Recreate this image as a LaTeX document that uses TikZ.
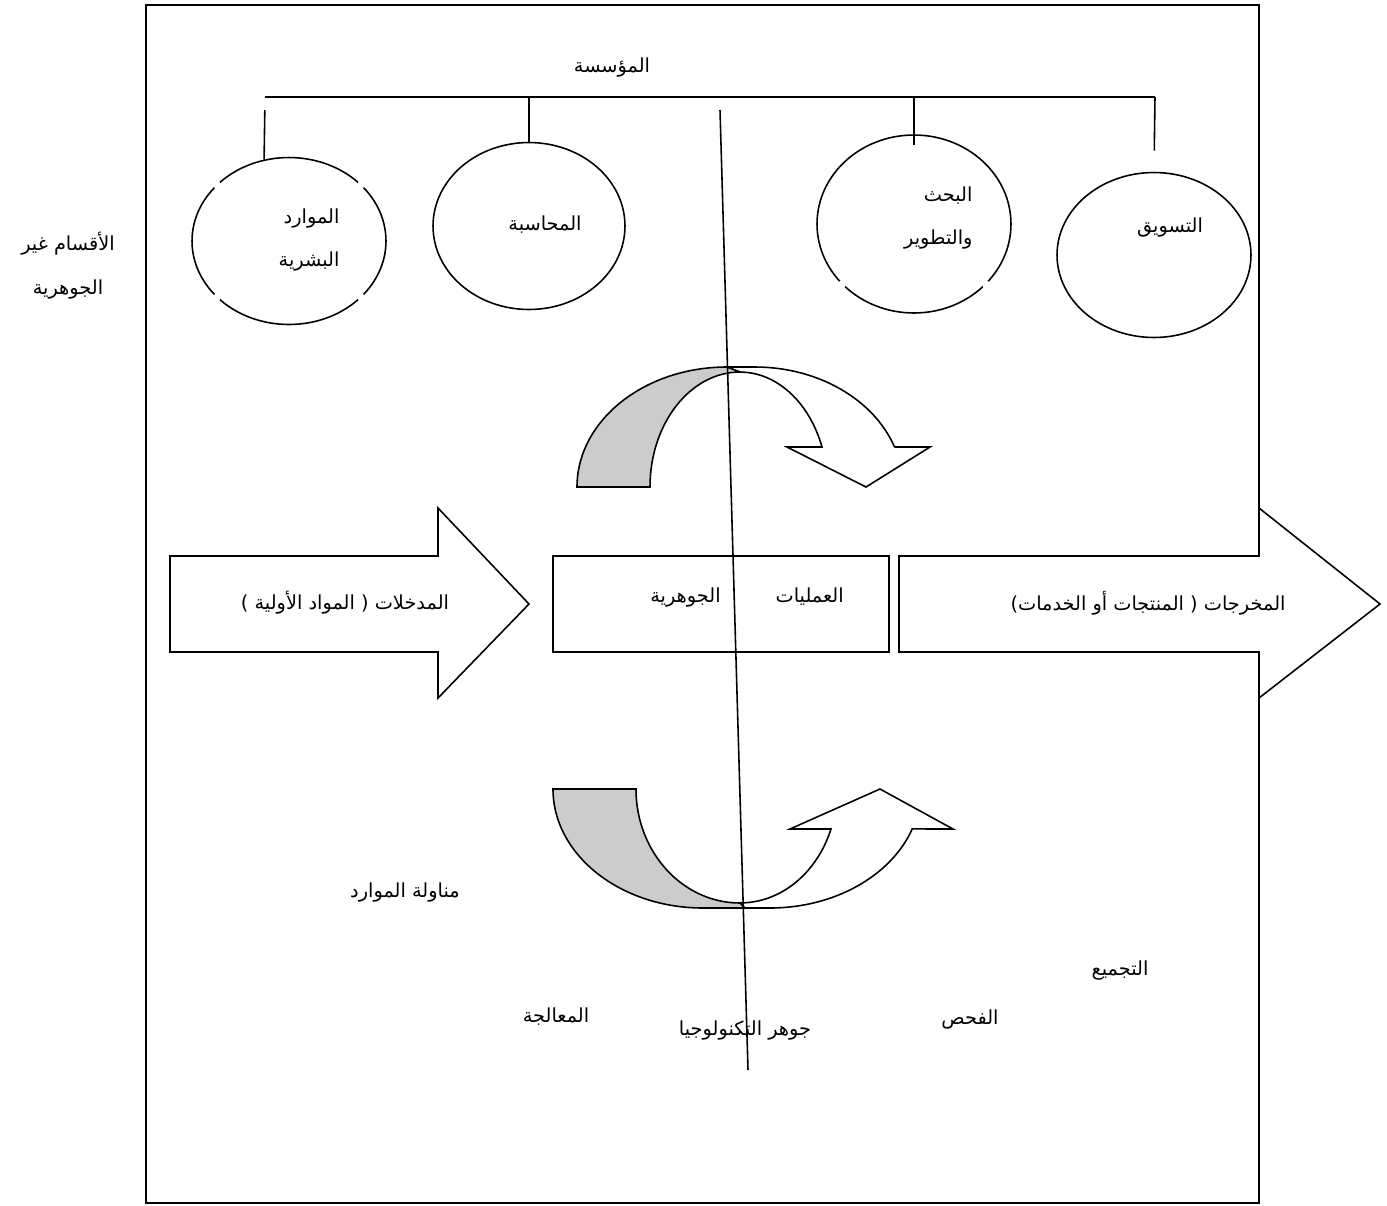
\documentclass[tikz,border=0pt]{standalone}
\usepackage{fontspec}
\newfontfamily\arabicfont[Script=Arabic]{DejaVu Sans}
\TeXXeTstate=1
\usepackage{tikz}
\usetikzlibrary{shapes.geometric,positioning}

\newcommand{\artxt}[1]{\beginR #1\endR}

\begin{document}
\begin{tikzpicture}[
    x=0.02cm, y=-0.02cm,
    line width=0.9pt,
    % Arabic labels
    lbl/.style={font=\arabicfont\fontsize{11}{25}\selectfont, inner sep=1pt},
    % the departments
    dept/.style={draw, ellipse, inner sep=0pt},
    % flow blocks
    block/.style={draw, fill=white},
    shade/.style={draw, fill=black!20},
  ]
  \useasboundingbox (0,0) rectangle (1387,1205);
  % frame of the firm
  \draw (146,5) rectangle (1259,1203);

  % organisation chart
  \node[lbl] (org) at (612,68) {\artxt{المؤسسة}};
  \coordinate (barL) at (265,97);
  \coordinate (barR) at (1155,97);
  \draw (barL) -- (barR);

  \node[dept, minimum width=3.88cm, minimum height=3.34cm] (hr) at (289,241) {};
  \node[dept, minimum width=3.84cm, minimum height=3.34cm] (acc) at (529,226) {};
  \node[dept, minimum width=3.88cm, minimum height=3.56cm] (rd) at (914,224) {};
  \node[dept, minimum width=3.88cm, minimum height=3.30cm] (mkt) at (1154,255) {};
  % small breaks in the outline
  \foreach \a in {142,218,38,322}
    \fill[white] (hr.\a) circle (4);
  \foreach \a in {220,320}
    \fill[white] (rd.\a) circle (4);

  \draw[shorten <=0.26cm] (barL) -- (hr.107);
  \draw (barL -| acc) -- (acc.north);
  \draw[shorten >=-0.22cm] (barL -| rd) -- (rd.north);
  \draw[shorten >=0.42cm] (barR) -- (mkt.north);

  \node[lbl, align=right, anchor=east] (hrTxt) at (342,240) {\artxt{الموارد}\\\artxt{البشرية}};
  \node[lbl] (accTxt) at (545,225) {\artxt{المحاسبة}};
  \node[lbl, align=right, anchor=east] (rdTxt) at (975,218) {\artxt{البحث}\\\artxt{والتطوير}};
  \node[lbl] (mktTxt) at (1170,228) {\artxt{التسويق}};
  \node[lbl, align=center] (nonCore) at (68,266) {\artxt{الأقسام غير}\\\artxt{الجوهرية}};

  % upper curved arrow
  \draw[block] (727,367) -- (755,367) arc[start angle=270, end angle=340.5, x radius=148, y radius=120]
    -- (930,447) -- (866,487) -- (787,447) -- (822,447)
    arc[start angle=339.6, end angle=270, x radius=87.5, y radius=115] -- cycle;
  \draw[shade] (577,487) arc[start angle=180, end angle=270, x radius=150, y radius=120]
    -- (740,372) arc[start angle=270, end angle=180, x radius=90, y radius=115] -- cycle;

  % inputs, core, outputs
  \draw[block] (170,556) -- (438,556) -- (438,508) -- (529,604) -- (438,698) -- (438,652) -- (170,652) -- cycle;
  \node[lbl] (inTxt) at (345,603) {\artxt{المدخلات ( المواد الأولية )}};
  \node[draw, minimum width=6.72cm, minimum height=1.92cm, inner sep=0pt] (core) at (721,604) {};
  \node[lbl] (coreTxt) at (747,598) {\artxt{العمليات\hspace{1.1cm}الجوهرية}};
  \draw[block] (899,556) -- (1259,556) -- (1259,508) -- (1380,604) -- (1259,698) -- (1259,652) -- (899,652) -- cycle;
  \node[lbl] (outTxt) at (1148,603) {\artxt{المخرجات ( المنتجات أو الخدمات)}};

  % lower curved arrow
  \draw[block] (727,908) -- (770,908) arc[start angle=90, end angle=19.6, x radius=151, y radius=119]
    -- (953,829) -- (880,789) -- (790,829) -- (831,829)
    arc[start angle=20.6, end angle=90, x radius=97, y radius=114] -- cycle;
  \draw[shade] (553,789) arc[start angle=180, end angle=90, x radius=150, y radius=119]
    -- (745,908) -- (740,903) arc[start angle=90, end angle=180, x radius=104, y radius=114] -- cycle;

  % process steps
  \node[lbl] (handling) at (405,893) {\artxt{مناولة الموارد}};
  \node[lbl] (processing) at (556,1017) {\artxt{المعالجة}};
  \node[lbl] (techCore) at (745,1030) {\artxt{جوهر التكنولوجيا}};
  \node[lbl] (inspection) at (970,1020) {\artxt{الفحص}};
  \node[lbl] (assembly) at (1120,970) {\artxt{التجميع}};

  % technology axis
  \coordinate (axisTop) at (720,110);
  \coordinate (axisBot) at (748,1070);
  \draw (axisTop) -- (axisBot);
\end{tikzpicture}
\end{document}
